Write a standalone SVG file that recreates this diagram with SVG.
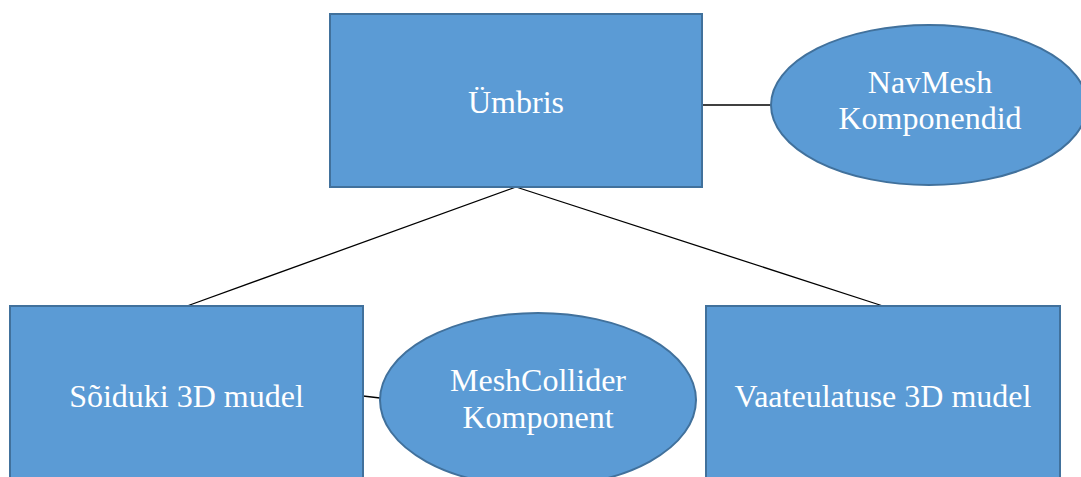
<svg xmlns="http://www.w3.org/2000/svg" width="1081" height="477" viewBox="0 0 1081 477">
<style>
.shape{fill:#5B9BD5;stroke:#41719C;stroke-width:2}
.lbl{font-family:"Liberation Serif","Times New Roman",serif;font-size:32px;fill:#FFFFFF;text-anchor:middle}
.conn{stroke:#000000;stroke-width:1.3;fill:none}
</style>
<rect width="1081" height="477" fill="#FFFFFF"/>
<g id="connectors">
<line class="conn" x1="516" y1="187" x2="187" y2="306"/>
<line class="conn" x1="516" y1="187" x2="883" y2="306"/>
<line class="conn" x1="702" y1="105" x2="771" y2="105"/>
<line class="conn" x1="363" y1="396" x2="380" y2="398"/>
</g>
<g id="umbris">
<rect class="shape" x="330" y="14" width="372" height="173"/>
<text class="lbl" x="516" y="113">Ümbris</text>
</g>
<g id="navmesh">
<ellipse class="shape" cx="929" cy="105" rx="158" ry="80"/>
<text class="lbl" x="930" y="93">NavMesh</text>
<text class="lbl" x="930" y="129">Komponendid</text>
</g>
<g id="soiduki">
<rect class="shape" x="10" y="306" width="353" height="190"/>
<text class="lbl" x="186.5" y="407">Sõiduki 3D mudel</text>
</g>
<g id="meshcollider">
<ellipse class="shape" cx="538" cy="400" rx="158" ry="87"/>
<text class="lbl" x="538" y="391">MeshCollider</text>
<text class="lbl" x="538" y="428">Komponent</text>
</g>
<g id="vaateulatuse">
<rect class="shape" x="706" y="306" width="354" height="190"/>
<text class="lbl" x="883" y="407">Vaateulatuse 3D mudel</text>
</g>
</svg>
